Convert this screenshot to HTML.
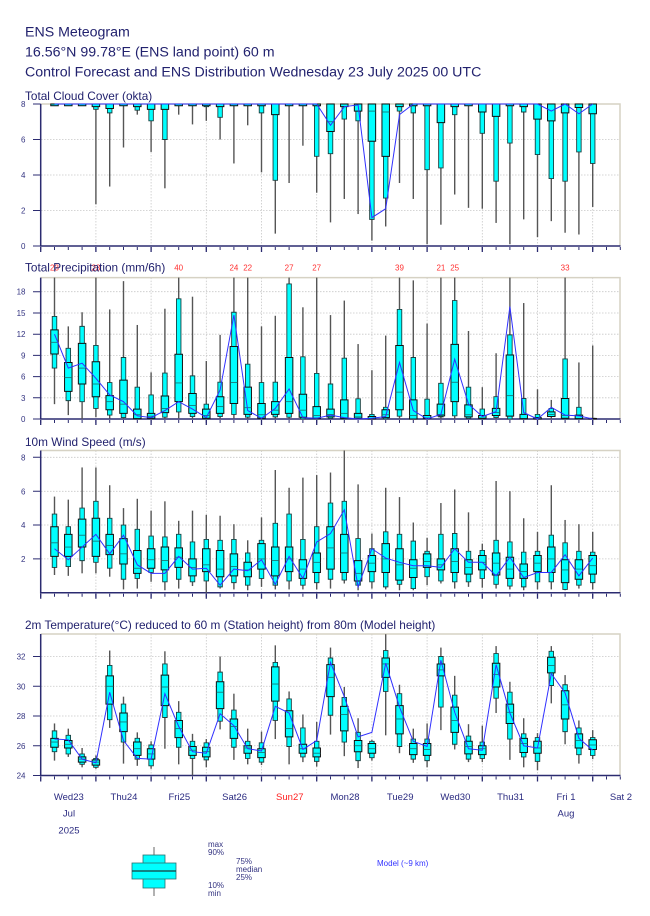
<!DOCTYPE html>
<html><head><meta charset="utf-8">
<style>
html,body{margin:0;padding:0;background:#fff;}
svg{display:block;font-family:"Liberation Sans",Arial,sans-serif;}
.w{stroke:#555;stroke-width:1.4;fill:none;vector-effect:non-scaling-stroke}
.n{fill:#00ffff;stroke:#1c4040;stroke-width:0.9;vector-effect:non-scaling-stroke}
.b{fill:#00ffff;stroke:#111;stroke-width:1;vector-effect:non-scaling-stroke}
.m{stroke:#1a6a6a;stroke-width:0.8;fill:none;vector-effect:non-scaling-stroke}
.c{stroke:#3030ff;stroke-width:1;fill:none;vector-effect:non-scaling-stroke}
.grid{stroke:#c8c8c8;stroke-width:0.8;stroke-dasharray:1.5 1.5;fill:none}
.ax{stroke:#2b2b70;stroke-width:1.5;fill:none}
.bd{stroke:#d6d2c4;stroke-width:1.5;fill:none}
.tk{stroke:#2b2b70;stroke-width:1;fill:none}
.yl{font-size:8px;fill:#333380;text-anchor:end}
.tt{font-size:11.8px;fill:#22226e}
.hd{font-size:14.2px;fill:#22226e}
.dl{font-size:9.5px;fill:#2a2a80;text-anchor:middle}
.rl{font-size:8px;fill:#ff3030;text-anchor:middle}
.lg{font-size:8px;fill:#333380}
</style></head>
<body>
<svg width="650" height="916" viewBox="0 0 650 916" xmlns="http://www.w3.org/2000/svg">
<rect width="650" height="916" fill="#fff"/>

<!-- Header -->
<text class="hd" x="25" y="36.5">ENS Meteogram</text>
<text class="hd" x="25" y="56.5">16.56°N 99.78°E (ENS land point) 60 m</text>
<text class="hd" x="25" y="76.5">Control Forecast and ENS Distribution Wednesday 23 July 2025 00 UTC</text>

<!-- ================= CLOUD PANEL ================= -->
<path class="grid" d="M41 210.5H620M41 175H620M41 139.5H620"/>
<path class="grid" d="M95.9 104V246M151.1 104V246M206.3 104V246M261.5 104V246M316.7 104V246M371.9 104V246M427.1 104V246M482.3 104V246M537.5 104V246M592.7 104V246"/>
<path class="bd" d="M40.7 104H620V246"/>
<path class="ax" d="M40.7 104V246H620.5"/>
<path class="tk" d="M33 246H40.7M33 210.5H40.7M33 175H40.7M33 139.5H40.7M33 104H40.7"/>
<line x1="40.2" y1="248.5" x2="621" y2="248.5" stroke="#2b2b70" stroke-width="3" stroke-dasharray="1 12.8"/>
<line x1="40.05" y1="249.5" x2="621" y2="249.5" stroke="#2b2b70" stroke-width="5" stroke-dasharray="1.3 53.9"/>
<text class="yl" x="25.5" y="249">0</text>
<text class="yl" x="25.5" y="213.5">2</text>
<text class="yl" x="25.5" y="178">4</text>
<text class="yl" x="25.5" y="142.5">6</text>
<text class="yl" x="25.5" y="107">8</text>
<text class="tt" x="25" y="100">Total Cloud Cover (okta)</text>

<g transform="translate(40.7,246) scale(2.3,-17.75)">
<g transform="translate(6)"><path class="b" d="M-1.63 7.9V8H1.63V7.9Z"/></g>
<g transform="translate(12)"><path class="b" d="M-1.63 7.9V8H1.63V7.9Z"/></g>
<g transform="translate(18)"><path class="b" d="M-1.63 7.9V8H1.63V7.9Z"/></g>
<g transform="translate(24)"><path class="w" d="M0 2.35V8"/><path class="n" d="M-.98 7.7V8H.98V7.7Z"/><path class="b" d="M-1.63 7.85V8H1.63V7.85Z"/></g>
<g transform="translate(30)"><path class="w" d="M0 3.35V8"/><path class="n" d="M-.98 7.5V8H.98V7.5Z"/><path class="b" d="M-1.63 7.75V8H1.63V7.75Z"/></g>
<g transform="translate(36)"><path class="w" d="M0 5.55V8"/><path class="b" d="M-1.63 7.9V8H1.63V7.9Z"/></g>
<g transform="translate(42)"><path class="w" d="M0 7.4V8"/><path class="n" d="M-.98 7.65V8H.98V7.65Z"/><path class="b" d="M-1.63 7.85V8H1.63V7.85Z"/></g>
<g transform="translate(48)"><path class="w" d="M0 5.3V8"/><path class="n" d="M-.98 7.05V8H.98V7.05Z"/><path class="b" d="M-1.63 7.7V8H1.63V7.7Z"/></g>
<g transform="translate(54)"><path class="w" d="M0 3.25V8"/><path class="n" d="M-.98 6V8H.98V6Z"/><path class="b" d="M-1.63 7.7V8H1.63V7.7Z"/></g>
<g transform="translate(60)"><path class="w" d="M0 7.4V8"/><path class="b" d="M-1.63 7.9V8H1.63V7.9Z"/></g>
<g transform="translate(66)"><path class="w" d="M0 6.85V8"/><path class="b" d="M-1.63 7.9V8H1.63V7.9Z"/></g>
<g transform="translate(72)"><path class="w" d="M0 7.05V8"/><path class="n" d="M-.98 7.85V8H.98V7.85Z"/><path class="b" d="M-1.63 7.9V8H1.63V7.9Z"/></g>
<g transform="translate(78)"><path class="w" d="M0 6V8"/><path class="n" d="M-.98 7.25V8H.98V7.25Z"/><path class="b" d="M-1.63 7.85V8H1.63V7.85Z"/></g>
<g transform="translate(84)"><path class="w" d="M0 4.65V8"/><path class="b" d="M-1.63 7.9V8H1.63V7.9Z"/></g>
<g transform="translate(90)"><path class="w" d="M0 6.8V8"/><path class="b" d="M-1.63 7.9V8H1.63V7.9Z"/></g>
<g transform="translate(96)"><path class="w" d="M0 4.15V8"/><path class="n" d="M-.98 7.5V8H.98V7.5Z"/><path class="b" d="M-1.63 7.9V8H1.63V7.9Z"/></g>
<g transform="translate(102)"><path class="w" d="M0 0.7V8"/><path class="n" d="M-.98 3.7V8H.98V3.7Z"/><path class="b" d="M-1.63 7.4V8H1.63V7.4Z"/></g>
<g transform="translate(108)"><path class="w" d="M0 3.55V8"/><path class="b" d="M-1.63 7.9V8H1.63V7.9Z"/></g>
<g transform="translate(114)"><path class="w" d="M0 5.65V8"/><path class="b" d="M-1.63 7.9V8H1.63V7.9Z"/></g>
<g transform="translate(120)"><path class="w" d="M0 3V8"/><path class="n" d="M-.98 5.05V8H.98V5.05Z"/><path class="b" d="M-1.63 7.9V8H1.63V7.9Z"/></g>
<g transform="translate(126)"><path class="w" d="M0 1.33V8"/><path class="n" d="M-.98 5.2V8H.98V5.2Z"/><path class="b" d="M-1.63 6.45V8H1.63V6.45Z"/><path class="m" d="M-1.63 7h3.26"/></g>
<g transform="translate(132)"><path class="w" d="M0 2.65V8"/><path class="n" d="M-.98 7.15V8H.98V7.15Z"/><path class="b" d="M-1.63 7.85V8H1.63V7.85Z"/></g>
<g transform="translate(138)"><path class="w" d="M0 1.8V8"/><path class="n" d="M-.98 7.05V8H.98V7.05Z"/><path class="b" d="M-1.63 7.6V8H1.63V7.6Z"/></g>
<g transform="translate(144)"><path class="w" d="M0 0.3V8"/><path class="n" d="M-.98 1.5V8H.98V1.5Z"/><path class="b" d="M-1.63 5.9V8H1.63V5.9Z"/><path class="m" d="M-1.63 7.6h3.26"/></g>
<g transform="translate(150)"><path class="w" d="M0 1.1V8"/><path class="n" d="M-.98 2.7V8H.98V2.7Z"/><path class="b" d="M-1.63 5.05V8H1.63V5.05Z"/><path class="m" d="M-1.63 7.55h3.26"/></g>
<g transform="translate(156)"><path class="w" d="M0 3.55V8"/><path class="n" d="M-.98 7.6V8H.98V7.6Z"/><path class="b" d="M-1.63 7.85V8H1.63V7.85Z"/></g>
<g transform="translate(162)"><path class="w" d="M0 2.65V8"/><path class="n" d="M-.98 7.5V8H.98V7.5Z"/><path class="b" d="M-1.63 7.9V8H1.63V7.9Z"/></g>
<g transform="translate(168)"><path class="w" d="M0 0.1V8"/><path class="n" d="M-.98 4.3V8H.98V4.3Z"/><path class="b" d="M-1.63 7.9V8H1.63V7.9Z"/></g>
<g transform="translate(174)"><path class="w" d="M0 1.2V8"/><path class="n" d="M-.98 4.4V8H.98V4.4Z"/><path class="b" d="M-1.63 6.95V8H1.63V6.95Z"/></g>
<g transform="translate(180)"><path class="w" d="M0 2.9V8"/><path class="n" d="M-.98 7.4V8H.98V7.4Z"/><path class="b" d="M-1.63 7.85V8H1.63V7.85Z"/></g>
<g transform="translate(186)"><path class="w" d="M0 2.15V8"/><path class="b" d="M-1.63 7.9V8H1.63V7.9Z"/></g>
<g transform="translate(192)"><path class="w" d="M0 2.1V8"/><path class="n" d="M-.98 6.35V8H.98V6.35Z"/><path class="b" d="M-1.63 7.55V8H1.63V7.55Z"/></g>
<g transform="translate(198)"><path class="w" d="M0 1.3V8"/><path class="n" d="M-.98 3.65V8H.98V3.65Z"/><path class="b" d="M-1.63 7.3V8H1.63V7.3Z"/></g>
<g transform="translate(204)"><path class="w" d="M0 0.1V8"/><path class="n" d="M-.98 5.8V8H.98V5.8Z"/><path class="b" d="M-1.63 7.9V8H1.63V7.9Z"/></g>
<g transform="translate(210)"><path class="w" d="M0 1.5V8"/><path class="n" d="M-.98 7.55V8H.98V7.55Z"/><path class="b" d="M-1.63 7.85V8H1.63V7.85Z"/></g>
<g transform="translate(216)"><path class="w" d="M0 0.5V8"/><path class="n" d="M-.98 5.15V8H.98V5.15Z"/><path class="b" d="M-1.63 7.15V8H1.63V7.15Z"/></g>
<g transform="translate(222)"><path class="w" d="M0 1.4V8"/><path class="n" d="M-.98 3.8V8H.98V3.8Z"/><path class="b" d="M-1.63 7.05V8H1.63V7.05Z"/></g>
<g transform="translate(228)"><path class="w" d="M0 0.75V8"/><path class="n" d="M-.98 3.65V8H.98V3.65Z"/><path class="b" d="M-1.63 7.5V8H1.63V7.5Z"/></g>
<g transform="translate(234)"><path class="w" d="M0 0.65V8"/><path class="n" d="M-.98 5.3V8H.98V5.3Z"/><path class="b" d="M-1.63 7.8V8H1.63V7.8Z"/></g>
<g transform="translate(240)"><path class="w" d="M0 2.2V8"/><path class="n" d="M-.98 4.65V8H.98V4.65Z"/><path class="b" d="M-1.63 7.45V8H1.63V7.45Z"/></g>
<polyline class="c" points="6,8 120,8 126,6.8 132,7.85 138,7.95 144,1.6 150,2.1 156,7.4 162,8 216,8 222,7.6 228,8 234,7.45 240,8"/>
</g>

<!-- ================= PRECIP PANEL ================= -->
<path class="grid" d="M41 397.8H620M41 376.6H620M41 355.4H620M41 334.2H620M41 313H620M41 291.7H620"/>
<path class="grid" d="M95.9 277.6V419M151.1 277.6V419M206.3 277.6V419M261.5 277.6V419M316.7 277.6V419M371.9 277.6V419M427.1 277.6V419M482.3 277.6V419M537.5 277.6V419M592.7 277.6V419"/>
<path class="bd" d="M40.7 277.6H620V419"/>
<path class="ax" d="M40.7 277.6V419H620.5"/>
<path class="tk" d="M33 419H40.7M33 397.8H40.7M33 376.6H40.7M33 355.4H40.7M33 334.2H40.7M33 313H40.7M33 291.7H40.7"/>
<line x1="40.2" y1="421.5" x2="621" y2="421.5" stroke="#2b2b70" stroke-width="3" stroke-dasharray="1 12.8"/>
<line x1="40.05" y1="422.5" x2="621" y2="422.5" stroke="#2b2b70" stroke-width="5" stroke-dasharray="1.3 53.9"/>
<text class="yl" x="25.5" y="422">0</text>
<text class="yl" x="25.5" y="400.8">3</text>
<text class="yl" x="25.5" y="379.6">6</text>
<text class="yl" x="25.5" y="358.4">9</text>
<text class="yl" x="25.5" y="337.2">12</text>
<text class="yl" x="25.5" y="316">15</text>
<text class="yl" x="25.5" y="294.7">18</text>
<text class="rl" x="54.5" y="270.5">23</text>
<text class="rl" x="95.9" y="270.5">23</text>
<text class="rl" x="178.7" y="270.5">40</text>
<text class="rl" x="233.9" y="270.5">24</text>
<text class="rl" x="247.7" y="270.5">22</text>
<text class="rl" x="289.1" y="270.5">27</text>
<text class="rl" x="316.7" y="270.5">27</text>
<text class="rl" x="399.5" y="270.5">39</text>
<text class="rl" x="440.9" y="270.5">21</text>
<text class="rl" x="454.7" y="270.5">25</text>
<text class="rl" x="565.1" y="270.5">33</text>
<text class="tt" x="25" y="271.5">Total Precipitation (mm/6h)</text>

<g transform="translate(40.7,419) scale(2.3,-7.07)">
<g transform="translate(6)"><path class="w" d="M0 2.1V20"/><path class="n" d="M-.98 7.2V14.5H.98V7.2Z"/><path class="b" d="M-1.63 9.2V12.6H1.63V9.2Z"/><path class="m" d="M-1.63 10.85h3.26"/></g>
<g transform="translate(12)"><path class="w" d="M0 0.55V13.1"/><path class="n" d="M-.98 2.6V10H.98V2.6Z"/><path class="b" d="M-1.63 3.9V8H1.63V3.9Z"/><path class="m" d="M-1.63 5.85h3.26"/></g>
<g transform="translate(18)"><path class="w" d="M0 0V15.1"/><path class="n" d="M-.98 2.45V13.1H.98V2.45Z"/><path class="b" d="M-1.63 4.95V10.7H1.63V4.95Z"/><path class="m" d="M-1.63 7.2h3.26"/></g>
<g transform="translate(24)"><path class="w" d="M0 0.25V20"/><path class="n" d="M-.98 1.5V10.4H.98V1.5Z"/><path class="b" d="M-1.63 3.15V8.1H1.63V3.15Z"/><path class="m" d="M-1.63 4.95h3.26"/></g>
<g transform="translate(30)"><path class="w" d="M0 0.05V15.5"/><path class="n" d="M-.98 0.55V5.15H.98V0.55Z"/><path class="b" d="M-1.63 1.3V3.3H1.63V1.3Z"/><path class="m" d="M-1.63 2.45h3.26"/></g>
<g transform="translate(36)"><path class="w" d="M0 0V19.5"/><path class="n" d="M-.98 0.2V8.7H.98V0.2Z"/><path class="b" d="M-1.63 0.8V5.5H1.63V0.8Z"/><path class="m" d="M-1.63 2.1h3.26"/></g>
<g transform="translate(42)"><path class="w" d="M0 0V13.3"/><path class="n" d="M-.98 0V4.5H.98V0Z"/><path class="b" d="M-1.63 0.05V1.4H1.63V0.05Z"/><path class="m" d="M-1.63 0.6h3.26"/></g>
<g transform="translate(48)"><path class="w" d="M0 0V6.6"/><path class="n" d="M-.98 0V3.4H.98V0Z"/><path class="b" d="M-1.63 0.1V0.8H1.63V0.1Z"/><path class="m" d="M-1.63 0.4h3.26"/></g>
<g transform="translate(54)"><path class="w" d="M0 0V15.6"/><path class="n" d="M-.98 0.25V6.5H.98V0.25Z"/><path class="b" d="M-1.63 0.9V3.25H1.63V0.9Z"/><path class="m" d="M-1.63 1.5h3.26"/></g>
<g transform="translate(60)"><path class="w" d="M0 0.1V20"/><path class="n" d="M-.98 1V17H.98V1Z"/><path class="b" d="M-1.63 2.45V9.15H1.63V2.45Z"/><path class="m" d="M-1.63 5.1h3.26"/></g>
<g transform="translate(66)"><path class="w" d="M0 0V17.3"/><path class="n" d="M-.98 0.35V6.1H.98V0.35Z"/><path class="b" d="M-1.63 0.8V3.6H1.63V0.8Z"/><path class="m" d="M-1.63 1.9h3.26"/></g>
<g transform="translate(72)"><path class="w" d="M0 0V8.2"/><path class="n" d="M-.98 0V2.1H.98V0Z"/><path class="b" d="M-1.63 0.1V1.4H1.63V0.1Z"/><path class="m" d="M-1.63 0.5h3.26"/></g>
<g transform="translate(78)"><path class="w" d="M0 0V11.9"/><path class="n" d="M-.98 0.35V5.2H.98V0.35Z"/><path class="b" d="M-1.63 0.8V3.15H1.63V0.8Z"/><path class="m" d="M-1.63 1.75h3.26"/></g>
<g transform="translate(84)"><path class="w" d="M0 0.1V20"/><path class="n" d="M-.98 0.65V15.1H.98V0.65Z"/><path class="b" d="M-1.63 2.2V10.25H1.63V2.2Z"/><path class="m" d="M-1.63 5.15h3.26"/></g>
<g transform="translate(90)"><path class="w" d="M0 0V20"/><path class="n" d="M-.98 0.25V7.75H.98V0.25Z"/><path class="b" d="M-1.63 0.65V4.5H1.63V0.65Z"/><path class="m" d="M-1.63 1.6h3.26"/></g>
<g transform="translate(96)"><path class="w" d="M0 0V13.1"/><path class="n" d="M-.98 0V5.15H.98V0Z"/><path class="b" d="M-1.63 0.1V2.2H1.63V0.1Z"/><path class="m" d="M-1.63 0.6h3.26"/></g>
<g transform="translate(102)"><path class="w" d="M0 0V14.6"/><path class="n" d="M-.98 0.3V5.2H.98V0.3Z"/><path class="b" d="M-1.63 0.65V2.45H1.63V0.65Z"/><path class="m" d="M-1.63 1.25h3.26"/></g>
<g transform="translate(108)"><path class="w" d="M0 0V20"/><path class="n" d="M-.98 0.25V19.1H.98V0.25Z"/><path class="b" d="M-1.63 0.8V8.7H1.63V0.8Z"/><path class="m" d="M-1.63 2.45h3.26"/></g>
<g transform="translate(114)"><path class="w" d="M0 0V15.8"/><path class="n" d="M-.98 0V8.8H.98V0Z"/><path class="b" d="M-1.63 0.25V3.5H1.63V0.25Z"/><path class="m" d="M-1.63 1.25h3.26"/></g>
<g transform="translate(120)"><path class="w" d="M0 0V20"/><path class="n" d="M-.98 0V6.45H.98V0Z"/><path class="b" d="M-1.63 0.1V1.75H1.63V0.1Z"/><path class="m" d="M-1.63 0.5h3.26"/></g>
<g transform="translate(126)"><path class="w" d="M0 0V14.7"/><path class="n" d="M-.98 0.1V4.95H.98V0.1Z"/><path class="b" d="M-1.63 0.3V1.4H1.63V0.3Z"/><path class="m" d="M-1.63 0.65h3.26"/></g>
<g transform="translate(132)"><path class="w" d="M0 0V16.75"/><path class="n" d="M-.98 0V8.6H.98V0Z"/><path class="b" d="M-1.63 0.1V2.7H1.63V0.1Z"/><path class="m" d="M-1.63 0.8h3.26"/></g>
<g transform="translate(138)"><path class="w" d="M0 0V10.6"/><path class="n" d="M-.98 0V2.85H.98V0Z"/><path class="b" d="M-1.63 0.1V0.8H1.63V0.1Z"/><path class="m" d="M-1.63 0.3h3.26"/></g>
<g transform="translate(144)"><path class="w" d="M0 0V6.9"/><path class="n" d="M-.98 0V0.65H.98V0Z"/><path class="b" d="M-1.63 0V0.35H1.63V0Z"/></g>
<g transform="translate(150)"><path class="w" d="M0 0V11.8"/><path class="n" d="M-.98 0V1.65H.98V0Z"/><path class="b" d="M-1.63 0.2V1.3H1.63V0.2Z"/><path class="m" d="M-1.63 0.6h3.26"/></g>
<g transform="translate(156)"><path class="w" d="M0 0V20"/><path class="n" d="M-.98 0.4V15.5H.98V0.4Z"/><path class="b" d="M-1.63 1.3V10.4H1.63V1.3Z"/><path class="m" d="M-1.63 3.8h3.26"/></g>
<g transform="translate(162)"><path class="w" d="M0 0V19.6"/><path class="n" d="M-.98 0V8.7H.98V0Z"/><path class="b" d="M-1.63 0V2.7H1.63V0Z"/><path class="m" d="M-1.63 0.5h3.26"/></g>
<g transform="translate(168)"><path class="w" d="M0 0V13.5"/><path class="n" d="M-.98 0V2.8H.98V0Z"/><path class="b" d="M-1.63 0.1V0.5H1.63V0.1Z"/></g>
<g transform="translate(174)"><path class="w" d="M0 0V20"/><path class="n" d="M-.98 0.3V5.05H.98V0.3Z"/><path class="b" d="M-1.63 0.45V2.1H1.63V0.45Z"/><path class="m" d="M-1.63 0.65h3.26"/></g>
<g transform="translate(180)"><path class="w" d="M0 0V20"/><path class="n" d="M-.98 0.45V16.75H.98V0.45Z"/><path class="b" d="M-1.63 2.45V10.55H1.63V2.45Z"/><path class="m" d="M-1.63 5.2h3.26"/></g>
<g transform="translate(186)"><path class="w" d="M0 0V12.45"/><path class="n" d="M-.98 0.1V4.5H.98V0.1Z"/><path class="b" d="M-1.63 0.3V2H1.63V0.3Z"/><path class="m" d="M-1.63 0.6h3.26"/></g>
<g transform="translate(192)"><path class="w" d="M0 0V4.5"/><path class="n" d="M-.98 0V1.4H.98V0Z"/><path class="b" d="M-1.63 0.1V0.5H1.63V0.1Z"/></g>
<g transform="translate(198)"><path class="w" d="M0 0V9.3"/><path class="n" d="M-.98 0.2V3.15H.98V0.2Z"/><path class="b" d="M-1.63 0.5V1.5H1.63V0.5Z"/><path class="m" d="M-1.63 0.9h3.26"/></g>
<g transform="translate(204)"><path class="w" d="M0 0V20"/><path class="n" d="M-.98 0V11.9H.98V0Z"/><path class="b" d="M-1.63 0.4V9.05H1.63V0.4Z"/><path class="m" d="M-1.63 3.3h3.26"/></g>
<g transform="translate(210)"><path class="w" d="M0 0V16.4"/><path class="n" d="M-.98 0V2.9H.98V0Z"/><path class="b" d="M-1.63 0.05V0.65H1.63V0.05Z"/></g>
<g transform="translate(216)"><path class="w" d="M0 0V4.2"/><path class="n" d="M-.98 0V0.65H.98V0Z"/><path class="b" d="M-1.63 0V0.2H1.63V0Z"/></g>
<g transform="translate(222)"><path class="w" d="M0 0V2.7"/><path class="n" d="M-.98 0.35V1.5H.98V0.35Z"/><path class="b" d="M-1.63 0.35V1H1.63V0.35Z"/><path class="m" d="M-1.63 0.65h3.26"/></g>
<g transform="translate(228)"><path class="w" d="M0 0V20"/><path class="n" d="M-.98 0V8.5H.98V0Z"/><path class="b" d="M-1.63 0.1V2.9H1.63V0.1Z"/><path class="m" d="M-1.63 0.5h3.26"/></g>
<g transform="translate(234)"><path class="w" d="M0 0V8"/><path class="n" d="M-.98 0V1.65H.98V0Z"/><path class="b" d="M-1.63 0.05V0.55H1.63V0.05Z"/></g>
<g transform="translate(240)"><path class="w" d="M0 0V10.4"/><path class="n" d="M-.98 0V0.1H.98V0Z"/><path class="b" d="M-1.63 0V0.08H1.63V0Z"/></g>
<polyline class="c" points="6,12 12,7.2 18,7.9 24,5.75 30,3.4 36,2.45 42,0.45 48,0.2 54,1.2 60,2.45 66,1.4 72,0.2 78,4.1 84,14.7 90,1.2 96,0.1 102,1.5 108,4.25 114,0.2 120,0.1 126,0.55 132,0.2 138,0 144,0.1 150,0.35 156,8 162,1.2 168,0 174,0.65 180,8.45 186,2.1 192,0.35 198,1.05 204,15.9 210,0.9 216,0 222,1.65 228,0.55 234,0.45 240,0"/>
</g>

<!-- ================= WIND PANEL ================= -->
<path class="grid" d="M41 558.9H620M41 525H620M41 491.3H620M41 457.3H620"/>
<path class="grid" d="M95.9 450.5V592.8M151.1 450.5V592.8M206.3 450.5V592.8M261.5 450.5V592.8M316.7 450.5V592.8M371.9 450.5V592.8M427.1 450.5V592.8M482.3 450.5V592.8M537.5 450.5V592.8M592.7 450.5V592.8"/>
<path class="bd" d="M40.7 450.5H620V592.8"/>
<path class="ax" d="M40.7 450.5V592.8H620.5"/>
<path class="tk" d="M33 558.9H40.7M33 525H40.7M33 491.3H40.7M33 457.3H40.7"/>
<line x1="40.2" y1="595.3" x2="621" y2="595.3" stroke="#2b2b70" stroke-width="3" stroke-dasharray="1 12.8"/>
<line x1="40.05" y1="596.3" x2="621" y2="596.3" stroke="#2b2b70" stroke-width="5" stroke-dasharray="1.3 53.9"/>
<text class="yl" x="25.5" y="561.9">2</text>
<text class="yl" x="25.5" y="528">4</text>
<text class="yl" x="25.5" y="494.3">6</text>
<text class="yl" x="25.5" y="460.3">8</text>
<text class="tt" x="25" y="446">10m Wind Speed (m/s)</text>

<g transform="translate(40.7,592.8) scale(2.3,-16.94)">
<g transform="translate(6)"><path class="w" d="M0 1.05V5.68"/><path class="n" d="M-.98 1.5V4.65H.98V1.5Z"/><path class="b" d="M-1.63 2.15V3.9H1.63V2.15Z"/><path class="m" d="M-1.63 2.95h3.26"/></g>
<g transform="translate(12)"><path class="w" d="M0 1V5.5"/><path class="n" d="M-.98 1.55V3.9H.98V1.55Z"/><path class="b" d="M-1.63 2.15V3.45H1.63V2.15Z"/><path class="m" d="M-1.63 2.7h3.26"/></g>
<g transform="translate(18)"><path class="w" d="M0 1.15V7.4"/><path class="n" d="M-.98 1.9V5H.98V1.9Z"/><path class="b" d="M-1.63 2.7V4.35H1.63V2.7Z"/><path class="m" d="M-1.63 3.4h3.26"/></g>
<g transform="translate(24)"><path class="w" d="M0 1.15V7.4"/><path class="n" d="M-.98 1.8V5.4H.98V1.8Z"/><path class="b" d="M-1.63 2.15V4.4H1.63V2.15Z"/><path class="m" d="M-1.63 3.05h3.26"/></g>
<g transform="translate(30)"><path class="w" d="M0 0.95V6.35"/><path class="n" d="M-.98 1.45V4.4H.98V1.45Z"/><path class="b" d="M-1.63 2.25V3.45H1.63V2.25Z"/><path class="m" d="M-1.63 2.8h3.26"/></g>
<g transform="translate(36)"><path class="w" d="M0 0.2V5"/><path class="n" d="M-.98 0.8V4H.98V0.8Z"/><path class="b" d="M-1.63 1.7V3.2H1.63V1.7Z"/><path class="m" d="M-1.63 2.3h3.26"/></g>
<g transform="translate(42)"><path class="w" d="M0 0.25V5.55"/><path class="n" d="M-.98 0.85V3.75H.98V0.85Z"/><path class="b" d="M-1.63 1.15V2.5H1.63V1.15Z"/><path class="m" d="M-1.63 1.45h3.26"/></g>
<g transform="translate(48)"><path class="w" d="M0 0.65V4.85"/><path class="n" d="M-.98 1.2V3.35H.98V1.2Z"/><path class="b" d="M-1.63 1.45V2.6H1.63V1.45Z"/><path class="m" d="M-1.63 1.95h3.26"/></g>
<g transform="translate(54)"><path class="w" d="M0 0.15V5.4"/><path class="n" d="M-.98 0.65V3.3H.98V0.65Z"/><path class="b" d="M-1.63 1.35V2.7H1.63V1.35Z"/><path class="m" d="M-1.63 1.9h3.26"/></g>
<g transform="translate(60)"><path class="w" d="M0 0.25V4.25"/><path class="n" d="M-.98 0.8V3.45H.98V0.8Z"/><path class="b" d="M-1.63 1.5V2.65H1.63V1.5Z"/><path class="m" d="M-1.63 2.1h3.26"/></g>
<g transform="translate(66)"><path class="w" d="M0 0.4V4.85"/><path class="n" d="M-.98 0.65V3H.98V0.65Z"/><path class="b" d="M-1.63 1V2H1.63V1Z"/><path class="m" d="M-1.63 1.5h3.26"/></g>
<g transform="translate(72)"><path class="w" d="M0 0V4.6"/><path class="n" d="M-.98 0.7V3.15H.98V0.7Z"/><path class="b" d="M-1.63 1.25V2.6H1.63V1.25Z"/><path class="m" d="M-1.63 1.65h3.26"/></g>
<g transform="translate(78)"><path class="w" d="M0 0.25V4.55"/><path class="n" d="M-.98 0.35V3.1H.98V0.35Z"/><path class="b" d="M-1.63 0.95V2.5H1.63V0.95Z"/><path class="m" d="M-1.63 1.4h3.26"/></g>
<g transform="translate(84)"><path class="w" d="M0 0.2V4.05"/><path class="n" d="M-.98 0.6V3.15H.98V0.6Z"/><path class="b" d="M-1.63 1V2.3H1.63V1Z"/><path class="m" d="M-1.63 1.55h3.26"/></g>
<g transform="translate(90)"><path class="w" d="M0 0.15V3.1"/><path class="n" d="M-.98 0.45V2.35H.98V0.45Z"/><path class="b" d="M-1.63 0.95V1.8H1.63V0.95Z"/><path class="m" d="M-1.63 1.35h3.26"/></g>
<g transform="translate(96)"><path class="w" d="M0 0.35V4.45"/><path class="n" d="M-.98 0.85V3.1H.98V0.85Z"/><path class="b" d="M-1.63 1.4V2.9H1.63V1.4Z"/><path class="m" d="M-1.63 2h3.26"/></g>
<g transform="translate(102)"><path class="w" d="M0 0.2V7.25"/><path class="n" d="M-.98 0.45V4.1H.98V0.45Z"/><path class="b" d="M-1.63 1V2.7H1.63V1Z"/><path class="m" d="M-1.63 1.9h3.26"/></g>
<g transform="translate(108)"><path class="w" d="M0 0.2V6.2"/><path class="n" d="M-.98 0.7V4.65H.98V0.7Z"/><path class="b" d="M-1.63 1.25V2.7H1.63V1.25Z"/><path class="m" d="M-1.63 2h3.26"/></g>
<g transform="translate(114)"><path class="w" d="M0 0.2V6.8"/><path class="n" d="M-.98 0.45V3.15H.98V0.45Z"/><path class="b" d="M-1.63 0.85V1.95H1.63V0.85Z"/><path class="m" d="M-1.63 1.4h3.26"/></g>
<g transform="translate(120)"><path class="w" d="M0 0.2V6.95"/><path class="n" d="M-.98 0.6V3.9H.98V0.6Z"/><path class="b" d="M-1.63 1.2V2.35H1.63V1.2Z"/><path class="m" d="M-1.63 1.8h3.26"/></g>
<g transform="translate(126)"><path class="w" d="M0 0.25V7.1"/><path class="n" d="M-.98 0.8V5.3H.98V0.8Z"/><path class="b" d="M-1.63 1.4V3.9H1.63V1.4Z"/><path class="m" d="M-1.63 2.65h3.26"/></g>
<g transform="translate(132)"><path class="w" d="M0 0.55V8.4"/><path class="n" d="M-.98 0.75V5.4H.98V0.75Z"/><path class="b" d="M-1.63 1.2V3.45H1.63V1.2Z"/><path class="m" d="M-1.63 2.35h3.26"/></g>
<g transform="translate(138)"><path class="w" d="M0 0.15V6.4"/><path class="n" d="M-.98 0.45V3.2H.98V0.45Z"/><path class="b" d="M-1.63 0.7V1.9H1.63V0.7Z"/><path class="m" d="M-1.63 1.15h3.26"/></g>
<g transform="translate(144)"><path class="w" d="M0 0.25V3.5"/><path class="n" d="M-.98 0.65V2.6H.98V0.65Z"/><path class="b" d="M-1.63 1.25V2.2H1.63V1.25Z"/><path class="m" d="M-1.63 1.75h3.26"/></g>
<g transform="translate(150)"><path class="w" d="M0 0.2V6.2"/><path class="n" d="M-.98 0.35V3.6H.98V0.35Z"/><path class="b" d="M-1.63 1.2V2.9H1.63V1.2Z"/><path class="m" d="M-1.63 2h3.26"/></g>
<g transform="translate(156)"><path class="w" d="M0 0.15V5.65"/><path class="n" d="M-.98 0.5V3.45H.98V0.5Z"/><path class="b" d="M-1.63 0.75V2.6H1.63V0.75Z"/><path class="m" d="M-1.63 1.65h3.26"/></g>
<g transform="translate(162)"><path class="w" d="M0 0.15V4.15"/><path class="n" d="M-.98 0.25V3.05H.98V0.25Z"/><path class="b" d="M-1.63 0.9V1.95H1.63V0.9Z"/><path class="m" d="M-1.63 1.45h3.26"/></g>
<g transform="translate(168)"><path class="w" d="M0 0.45V3.25"/><path class="n" d="M-.98 0.95V2.45H.98V0.95Z"/><path class="b" d="M-1.63 1.5V2.3H1.63V1.5Z"/><path class="m" d="M-1.63 1.85h3.26"/></g>
<g transform="translate(174)"><path class="w" d="M0 0.55V5.3"/><path class="n" d="M-.98 0.7V3.45H.98V0.7Z"/><path class="b" d="M-1.63 1.35V2H1.63V1.35Z"/><path class="m" d="M-1.63 1.65h3.26"/></g>
<g transform="translate(180)"><path class="w" d="M0 0.25V6.1"/><path class="n" d="M-.98 0.65V3.5H.98V0.65Z"/><path class="b" d="M-1.63 1.2V2.6H1.63V1.2Z"/><path class="m" d="M-1.63 1.85h3.26"/></g>
<g transform="translate(186)"><path class="w" d="M0 0.35V4.75"/><path class="n" d="M-.98 0.65V2.45H.98V0.65Z"/><path class="b" d="M-1.63 1.1V1.95H1.63V1.1Z"/><path class="m" d="M-1.63 1.5h3.26"/></g>
<g transform="translate(192)"><path class="w" d="M0 0.3V2.9"/><path class="n" d="M-.98 0.85V2.5H.98V0.85Z"/><path class="b" d="M-1.63 1.35V2.2H1.63V1.35Z"/><path class="m" d="M-1.63 1.8h3.26"/></g>
<g transform="translate(198)"><path class="w" d="M0 0.25V6.6"/><path class="n" d="M-.98 0.5V3.1H.98V0.5Z"/><path class="b" d="M-1.63 1.05V2.35H1.63V1.05Z"/><path class="m" d="M-1.63 1.75h3.26"/></g>
<g transform="translate(204)"><path class="w" d="M0 0.2V6"/><path class="n" d="M-.98 0.4V3H.98V0.4Z"/><path class="b" d="M-1.63 0.85V2.1H1.63V0.85Z"/><path class="m" d="M-1.63 1.4h3.26"/></g>
<g transform="translate(210)"><path class="w" d="M0 0.15V4.4"/><path class="n" d="M-.98 0.35V2.4H.98V0.35Z"/><path class="b" d="M-1.63 0.85V1.7H1.63V0.85Z"/><path class="m" d="M-1.63 1.25h3.26"/></g>
<g transform="translate(216)"><path class="w" d="M0 0.2V3.6"/><path class="n" d="M-.98 0.65V2.45H.98V0.65Z"/><path class="b" d="M-1.63 1.25V2.2H1.63V1.25Z"/><path class="m" d="M-1.63 1.75h3.26"/></g>
<g transform="translate(222)"><path class="w" d="M0 0.2V6.35"/><path class="n" d="M-.98 0.65V3.4H.98V0.65Z"/><path class="b" d="M-1.63 1.2V2.7H1.63V1.2Z"/><path class="m" d="M-1.63 2h3.26"/></g>
<g transform="translate(228)"><path class="w" d="M0 0.15V4.3"/><path class="n" d="M-.98 0.2V2.95H.98V0.2Z"/><path class="b" d="M-1.63 0.6V1.95H1.63V0.6Z"/><path class="m" d="M-1.63 1.35h3.26"/></g>
<g transform="translate(234)"><path class="w" d="M0 0.25V4.05"/><path class="n" d="M-.98 0.45V2.45H.98V0.45Z"/><path class="b" d="M-1.63 0.8V1.95H1.63V0.8Z"/><path class="m" d="M-1.63 1.4h3.26"/></g>
<g transform="translate(240)"><path class="w" d="M0 0.2V3.6"/><path class="n" d="M-.98 0.6V2.4H.98V0.6Z"/><path class="b" d="M-1.63 1.1V2.2H1.63V1.1Z"/><path class="m" d="M-1.63 1.6h3.26"/></g>
<polyline class="c" points="6,2.6 12,1.95 18,2.7 24,3.45 30,2.3 36,3.4 42,1.65 48,1.15 54,1.15 60,2.15 66,1.4 72,1.45 78,0.45 84,1.4 90,1.3 96,1.95 102,0.5 108,2.15 114,0.85 120,3 126,3.5 132,4.9 138,0.35 144,2.6 150,2.05 156,1.8 162,1.6 168,1.6 174,1.5 180,2.6 186,1.8 192,1.8 198,1 204,2.1 210,0.9 216,1.2 222,1.2 228,2.25 234,1 240,2.05"/>
</g>

<!-- ================= TEMPERATURE PANEL ================= -->
<path class="grid" d="M41 745.75H620M41 716H620M41 686.25H620M41 656.5H620"/>
<path class="grid" d="M95.9 634V775.5M151.1 634V775.5M206.3 634V775.5M261.5 634V775.5M316.7 634V775.5M371.9 634V775.5M427.1 634V775.5M482.3 634V775.5M537.5 634V775.5M592.7 634V775.5"/>
<path class="bd" d="M40.7 634H620V775.5"/>
<path class="ax" d="M40.7 634V775.5H620.5"/>
<path class="tk" d="M33 775.5H40.7M33 745.75H40.7M33 716H40.7M33 686.25H40.7M33 656.5H40.7"/>
<line x1="40.2" y1="778" x2="621" y2="778" stroke="#2b2b70" stroke-width="3" stroke-dasharray="1 12.8"/>
<line x1="40.05" y1="779" x2="621" y2="779" stroke="#2b2b70" stroke-width="5" stroke-dasharray="1.3 53.9"/>
<text class="yl" x="25.5" y="778.5">24</text>
<text class="yl" x="25.5" y="748.75">26</text>
<text class="yl" x="25.5" y="719">28</text>
<text class="yl" x="25.5" y="689.25">30</text>
<text class="yl" x="25.5" y="659.5">32</text>
<text class="tt" x="25" y="629">2m Temperature(°C) reduced to 60 m (Station height) from 80m (Model height)</text>

<g transform="translate(40.7,775.5) scale(2.3,-14.875) translate(0,-24)">
<g transform="translate(6)"><path class="w" d="M0 25V27.5"/><path class="n" d="M-.98 25.6V27H.98V25.6Z"/><path class="b" d="M-1.63 25.9V26.5H1.63V25.9Z"/><path class="m" d="M-1.63 26.25h3.26"/></g>
<g transform="translate(12)"><path class="w" d="M0 25.25V27.15"/><path class="n" d="M-.98 25.45V26.7H.98V25.45Z"/><path class="b" d="M-1.63 25.85V26.35H1.63V25.85Z"/><path class="m" d="M-1.63 26.1h3.26"/></g>
<g transform="translate(18)"><path class="w" d="M0 24.55V25.85"/><path class="n" d="M-.98 24.75V25.45H.98V24.75Z"/><path class="b" d="M-1.63 24.9V25.25H1.63V24.9Z"/><path class="m" d="M-1.63 25.1h3.26"/></g>
<g transform="translate(24)"><path class="w" d="M0 24.45V25.35"/><path class="n" d="M-.98 24.55V25.15H.98V24.55Z"/><path class="b" d="M-1.63 24.7V25.05H1.63V24.7Z"/><path class="m" d="M-1.63 24.9h3.26"/></g>
<g transform="translate(30)"><path class="w" d="M0 27.2V32.4"/><path class="n" d="M-.98 27.75V31.4H.98V27.75Z"/><path class="b" d="M-1.63 28.8V30.7H1.63V28.8Z"/><path class="m" d="M-1.63 30h3.26"/></g>
<g transform="translate(36)"><path class="w" d="M0 24.8V29.3"/><path class="n" d="M-.98 26.25V28.8H.98V26.25Z"/><path class="b" d="M-1.63 26.95V28.2H1.63V26.95Z"/><path class="m" d="M-1.63 27.6h3.26"/></g>
<g transform="translate(42)"><path class="w" d="M0 24.65V26.9"/><path class="n" d="M-.98 25.1V26.5H.98V25.1Z"/><path class="b" d="M-1.63 25.35V26.25H1.63V25.35Z"/><path class="m" d="M-1.63 25.8h3.26"/></g>
<g transform="translate(48)"><path class="w" d="M0 24.45V26.3"/><path class="n" d="M-.98 24.65V26.05H.98V24.65Z"/><path class="b" d="M-1.63 25.1V25.8H1.63V25.1Z"/><path class="m" d="M-1.63 25.45h3.26"/></g>
<g transform="translate(54)"><path class="w" d="M0 25.8V32.35"/><path class="n" d="M-.98 27.9V31.5H.98V27.9Z"/><path class="b" d="M-1.63 28.7V30.75H1.63V28.7Z"/><path class="m" d="M-1.63 29.95h3.26"/></g>
<g transform="translate(60)"><path class="w" d="M0 24.75V29"/><path class="n" d="M-.98 25.9V28.25H.98V25.9Z"/><path class="b" d="M-1.63 26.55V27.7H1.63V26.55Z"/><path class="m" d="M-1.63 27.15h3.26"/></g>
<g transform="translate(66)"><path class="w" d="M0 24V26.8"/><path class="n" d="M-.98 25.15V26.3H.98V25.15Z"/><path class="b" d="M-1.63 25.35V25.95H1.63V25.35Z"/><path class="m" d="M-1.63 25.7h3.26"/></g>
<g transform="translate(72)"><path class="w" d="M0 24.55V26.45"/><path class="n" d="M-.98 25.05V26.2H.98V25.05Z"/><path class="b" d="M-1.63 25.25V25.9H1.63V25.25Z"/><path class="m" d="M-1.63 25.6h3.26"/></g>
<g transform="translate(78)"><path class="w" d="M0 27.1V32"/><path class="n" d="M-.98 27.65V30.95H.98V27.65Z"/><path class="b" d="M-1.63 28.5V30.3H1.63V28.5Z"/><path class="m" d="M-1.63 29.6h3.26"/></g>
<g transform="translate(84)"><path class="w" d="M0 25.05V29.5"/><path class="n" d="M-.98 25.9V28.4H.98V25.9Z"/><path class="b" d="M-1.63 26.5V27.8H1.63V26.5Z"/><path class="m" d="M-1.63 27.3h3.26"/></g>
<g transform="translate(90)"><path class="w" d="M0 24.75V27.15"/><path class="n" d="M-.98 25.15V26.3H.98V25.15Z"/><path class="b" d="M-1.63 25.5V26H1.63V25.5Z"/><path class="m" d="M-1.63 25.85h3.26"/></g>
<g transform="translate(96)"><path class="w" d="M0 24.7V26.95"/><path class="n" d="M-.98 24.9V26.2H.98V24.9Z"/><path class="b" d="M-1.63 25.2V25.8H1.63V25.2Z"/><path class="m" d="M-1.63 25.55h3.26"/></g>
<g transform="translate(102)"><path class="w" d="M0 26.45V32.75"/><path class="n" d="M-.98 27.7V31.6H.98V27.7Z"/><path class="b" d="M-1.63 29V31.3H1.63V29Z"/><path class="m" d="M-1.63 30.15h3.26"/></g>
<g transform="translate(108)"><path class="w" d="M0 24.75V29.65"/><path class="n" d="M-.98 25.95V29.15H.98V25.95Z"/><path class="b" d="M-1.63 26.6V28.35H1.63V26.6Z"/><path class="m" d="M-1.63 27.15h3.26"/></g>
<g transform="translate(114)"><path class="w" d="M0 24.9V28.1"/><path class="n" d="M-.98 25.25V27.2H.98V25.25Z"/><path class="b" d="M-1.63 25.5V26.1H1.63V25.5Z"/><path class="m" d="M-1.63 25.8h3.26"/></g>
<g transform="translate(120)"><path class="w" d="M0 24.6V27.6"/><path class="n" d="M-.98 24.95V26.3H.98V24.95Z"/><path class="b" d="M-1.63 25.25V25.85H1.63V25.25Z"/><path class="m" d="M-1.63 25.5h3.26"/></g>
<g transform="translate(126)"><path class="w" d="M0 26.75V32.6"/><path class="n" d="M-.98 28.05V31.9H.98V28.05Z"/><path class="b" d="M-1.63 29.3V31.45H1.63V29.3Z"/><path class="m" d="M-1.63 30.6h3.26"/></g>
<g transform="translate(132)"><path class="w" d="M0 25.3V29.95"/><path class="n" d="M-.98 26.25V29.25H.98V26.25Z"/><path class="b" d="M-1.63 27V28.65H1.63V27Z"/><path class="m" d="M-1.63 28.1h3.26"/></g>
<g transform="translate(138)"><path class="w" d="M0 24.5V27.85"/><path class="n" d="M-.98 25V26.9H.98V25Z"/><path class="b" d="M-1.63 25.6V26.35H1.63V25.6Z"/><path class="m" d="M-1.63 26h3.26"/></g>
<g transform="translate(144)"><path class="w" d="M0 25V26.4"/><path class="n" d="M-.98 25.2V26.3H.98V25.2Z"/><path class="b" d="M-1.63 25.5V26.15H1.63V25.5Z"/><path class="m" d="M-1.63 25.8h3.26"/></g>
<g transform="translate(150)"><path class="w" d="M0 26.7V33.5"/><path class="n" d="M-.98 29.65V32.4H.98V29.65Z"/><path class="b" d="M-1.63 30.6V31.9H1.63V30.6Z"/><path class="m" d="M-1.63 31.5h3.26"/></g>
<g transform="translate(156)"><path class="w" d="M0 25.5V30.1"/><path class="n" d="M-.98 25.95V29.5H.98V25.95Z"/><path class="b" d="M-1.63 26.8V28.7H1.63V26.8Z"/><path class="m" d="M-1.63 27.8h3.26"/></g>
<g transform="translate(162)"><path class="w" d="M0 24.85V27.15"/><path class="n" d="M-.98 25.1V26.45H.98V25.1Z"/><path class="b" d="M-1.63 25.4V26.15H1.63V25.4Z"/><path class="m" d="M-1.63 25.8h3.26"/></g>
<g transform="translate(168)"><path class="w" d="M0 24.55V27.5"/><path class="n" d="M-.98 25V26.45H.98V25Z"/><path class="b" d="M-1.63 25.35V26.15H1.63V25.35Z"/><path class="m" d="M-1.63 25.75h3.26"/></g>
<g transform="translate(174)"><path class="w" d="M0 27.05V32.6"/><path class="n" d="M-.98 28.6V32H.98V28.6Z"/><path class="b" d="M-1.63 30.7V31.5H1.63V30.7Z"/><path class="m" d="M-1.63 31.1h3.26"/></g>
<g transform="translate(180)"><path class="w" d="M0 25.75V30.7"/><path class="n" d="M-.98 26.1V29.4H.98V26.1Z"/><path class="b" d="M-1.63 26.9V28.6H1.63V26.9Z"/><path class="m" d="M-1.63 27.7h3.26"/></g>
<g transform="translate(186)"><path class="w" d="M0 24.9V27.45"/><path class="n" d="M-.98 25.1V26.65H.98V25.1Z"/><path class="b" d="M-1.63 25.45V26.3H1.63V25.45Z"/><path class="m" d="M-1.63 25.95h3.26"/></g>
<g transform="translate(192)"><path class="w" d="M0 24.9V27.35"/><path class="n" d="M-.98 25.15V26.25H.98V25.15Z"/><path class="b" d="M-1.63 25.4V26H1.63V25.4Z"/><path class="m" d="M-1.63 25.8h3.26"/></g>
<g transform="translate(198)"><path class="w" d="M0 28.2V32.7"/><path class="n" d="M-.98 29.2V32.2H.98V29.2Z"/><path class="b" d="M-1.63 29.95V31.55H1.63V29.95Z"/><path class="m" d="M-1.63 30.8h3.26"/></g>
<g transform="translate(204)"><path class="w" d="M0 25.05V30.3"/><path class="n" d="M-.98 26.45V29.6H.98V26.45Z"/><path class="b" d="M-1.63 27.5V28.8H1.63V27.5Z"/><path class="m" d="M-1.63 28.25h3.26"/></g>
<g transform="translate(210)"><path class="w" d="M0 24.55V27.85"/><path class="n" d="M-.98 25.25V26.8H.98V25.25Z"/><path class="b" d="M-1.63 25.55V26.5H1.63V25.55Z"/><path class="m" d="M-1.63 26.15h3.26"/></g>
<g transform="translate(216)"><path class="w" d="M0 24.35V26.85"/><path class="n" d="M-.98 24.95V26.55H.98V24.95Z"/><path class="b" d="M-1.63 25.5V26.3H1.63V25.5Z"/><path class="m" d="M-1.63 25.85h3.26"/></g>
<g transform="translate(222)"><path class="w" d="M0 28.85V32.7"/><path class="n" d="M-.98 30.05V32.35H.98V30.05Z"/><path class="b" d="M-1.63 30.9V31.95H1.63V30.9Z"/><path class="m" d="M-1.63 31.4h3.26"/></g>
<g transform="translate(228)"><path class="w" d="M0 26.1V30.75"/><path class="n" d="M-.98 26.95V30.1H.98V26.95Z"/><path class="b" d="M-1.63 27.8V29.7H1.63V27.8Z"/><path class="m" d="M-1.63 28.75h3.26"/></g>
<g transform="translate(234)"><path class="w" d="M0 24.8V27.7"/><path class="n" d="M-.98 25.4V27.2H.98V25.4Z"/><path class="b" d="M-1.63 25.85V26.8H1.63V25.85Z"/><path class="m" d="M-1.63 26.35h3.26"/></g>
<g transform="translate(240)"><path class="w" d="M0 25.1V27.05"/><path class="n" d="M-.98 25.35V26.55H.98V25.35Z"/><path class="b" d="M-1.63 25.75V26.4H1.63V25.75Z"/><path class="m" d="M-1.63 26.05h3.26"/></g>
<polyline class="c" points="6,26.45 12,26.4 18,25.1 24,24.85 30,29.6 36,26.35 42,25.15 48,25.1 54,29.5 60,27.3 66,25.6 72,25.5 78,28.15 84,27.35 90,25.8 96,25.65 102,28.65 108,28.2 114,25.75 120,26.35 126,31.6 132,29.3 138,26.6 144,26.9 150,31.55 156,28.6 162,26.3 168,25.95 174,31.75 180,28.25 186,25.8 192,25.7 198,31.45 204,28.2 210,26 216,25.85 222,30.85 228,29.55 234,26.5 240,25.7"/>
</g>

<!-- Day labels -->
<text class="dl" x="68.8" y="800">Wed23</text>
<text class="dl" x="124" y="800">Thu24</text>
<text class="dl" x="179.3" y="800">Fri25</text>
<text class="dl" x="234.6" y="800">Sat26</text>
<text class="dl" x="289.8" y="800" style="fill:#ff2020">Sun27</text>
<text class="dl" x="345" y="800">Mon28</text>
<text class="dl" x="400.2" y="800">Tue29</text>
<text class="dl" x="455.4" y="800">Wed30</text>
<text class="dl" x="510.6" y="800">Thu31</text>
<text class="dl" x="566" y="800">Fri 1</text>
<text class="dl" x="621" y="800">Sat 2</text>
<text class="dl" x="69" y="816.5">Jul</text>
<text class="dl" x="69" y="833.5">2025</text>
<text class="dl" x="566" y="816.5">Aug</text>

<!-- Legend -->
<line x1="154" y1="847" x2="154" y2="896" stroke="#666" stroke-width="1"/>
<rect x="143" y="855" width="22" height="33" fill="#00ffff" stroke="#2a7070" stroke-width="0.8"/>
<rect x="132" y="863" width="44" height="16" fill="#00ffff" stroke="#2a7070" stroke-width="0.8"/>
<line x1="132" y1="871" x2="176" y2="871" stroke="#1a3a3a" stroke-width="1.2"/>
<text class="lg" x="208" y="847">max</text>
<text class="lg" x="208" y="855">90%</text>
<text class="lg" x="236" y="864">75%</text>
<text class="lg" x="236" y="872">median</text>
<text class="lg" x="236" y="880">25%</text>
<text class="lg" x="208" y="888">10%</text>
<text class="lg" x="208" y="896">min</text>
<text class="lg" x="377" y="866" style="fill:#3333ff">Model (~9 km)</text>
</svg>
</body></html>
